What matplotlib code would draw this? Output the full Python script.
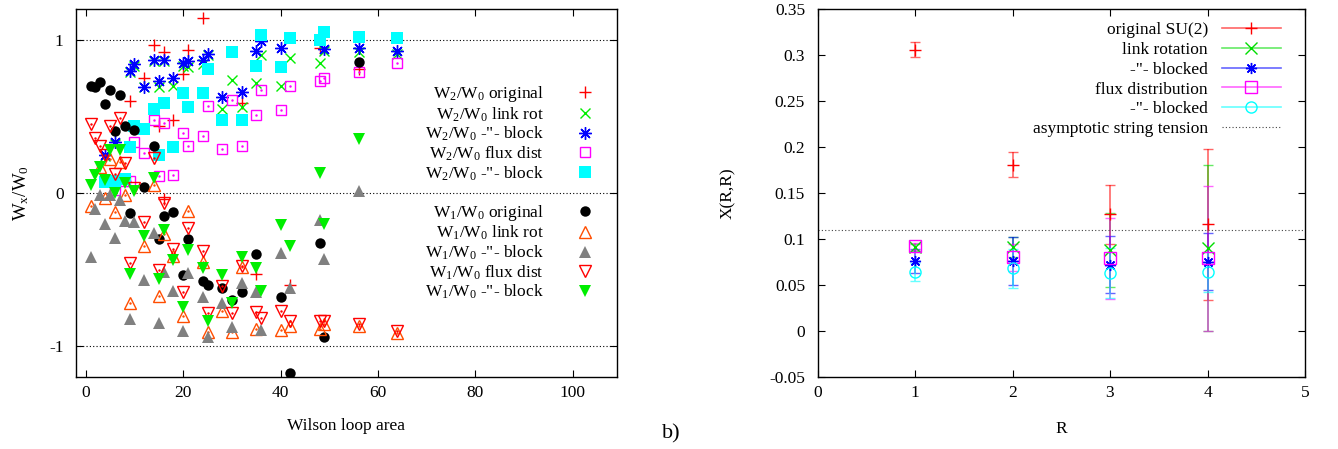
import matplotlib
matplotlib.use('Agg')
import matplotlib.pyplot as plt
from matplotlib.lines import Line2D
from matplotlib.ticker import FuncFormatter

plt.rcParams['font.family'] = ['Liberation Serif', 'DejaVu Serif']
plt.rcParams['mathtext.default'] = 'regular'
plt.rcParams['axes.unicode_minus'] = False
plt.rcParams['font.size'] = 12.5

# ---- left panel: Wilson loop ratios vs loop area ----
w2_orig_x = [9, 12, 14, 15, 16, 16, 18, 20, 21, 24, 32, 35, 42, 48, 56]
w2_orig_y = [0.60, 0.75, 0.97, 0.435, 0.92, -0.04, 0.48, 0.78, 0.935, 1.14, 0.59, -0.53, -0.60, 0.95, 0.81]

w2_link_x = [4, 6, 9, 10, 12, 14, 15, 16, 18, 20, 21, 24, 25, 28, 30, 32, 35, 36, 40, 42, 48, 49, 56, 64]
w2_link_y = [0.24, 0.32, 0.79, 0.83, 0.69, 0.86, 0.69, 0.86, 0.70, 0.83, 0.82, 0.84, 0.90, 0.55, 0.74, 0.56,
             0.72, 0.90, 0.70, 0.88, 0.85, 0.93, 0.92, 0.91]

w2_blk_x = [4, 6, 9, 10, 12, 14, 15, 16, 18, 20, 21, 24, 25, 28, 32, 35, 36, 40, 49, 56, 64]
w2_blk_y = [0.25, 0.33, 0.80, 0.84, 0.69, 0.87, 0.73, 0.87, 0.75, 0.85, 0.86, 0.87, 0.91, 0.63, 0.66, 0.93,
            0.99, 0.95, 0.94, 0.95, 0.93]

w2_flux_x = [6, 8, 9, 10, 12, 14, 15, 16, 18, 20, 21, 24, 25, 28, 30, 32, 35, 36, 40, 42, 48, 49, 56, 64]
w2_flux_y = [0.02, 0.08, 0.08, 0.33, 0.26, 0.48, 0.11, 0.46, 0.12, 0.39, 0.31, 0.37, 0.57, 0.29, 0.61, 0.31,
             0.51, 0.67, 0.54, 0.70, 0.73, 0.75, 0.79, 0.85]

w2_fblk_x = [4, 6, 8, 9, 10, 12, 14, 15, 16, 18, 20, 21, 24, 25, 28, 30, 32, 35, 36, 40, 42, 48, 49, 56, 64]
w2_fblk_y = [0.07, 0.08, 0.09, 0.30, 0.44, 0.42, 0.55, 0.25, 0.59, 0.30, 0.65, 0.56, 0.65, 0.81, 0.48, 0.92,
             0.48, 0.83, 1.03, 0.82, 1.01, 1.00, 1.05, 1.02, 1.01]

w1_orig_x = [1, 2, 3, 4, 5, 6, 7, 8, 9, 10, 12, 14, 15, 16, 18, 20, 21, 24, 25, 28, 30, 32, 35, 40, 42, 48, 49, 56]
w1_orig_y = [0.70, 0.695, 0.728, 0.58, 0.674, 0.406, 0.641, 0.435, -0.13, 0.413, 0.039, 0.309, -0.30, -0.148,
             -0.126, -0.533, -0.30, -0.577, -0.598, -0.62, -0.696, -0.646, -0.398, -0.681, -1.174, -0.326,
             -0.942, 0.854]

w1_link_x = [1, 3, 4, 5, 6, 7, 8, 9, 12, 14, 15, 16, 18, 20, 21, 24, 25, 28, 30, 32, 35, 40, 42, 48, 49, 56, 64]
w1_link_y = [-0.083, 0.17, -0.03, 0.22, -0.126, 0.20, -0.01, -0.718, -0.344, 0.054, -0.674, -0.268, -0.409,
             -0.805, -0.115, -0.453, -0.909, -0.768, -0.909, -0.485, -0.887, -0.892, -0.87, -0.89, -0.855,
             -0.87, -0.913]

w1_blk_x = [1, 2, 3, 4, 5, 6, 7, 8, 9, 10, 12, 14, 15, 16, 18, 20, 21, 24, 25, 28, 30, 32, 35, 36, 40, 42, 48,
            49, 56]
w1_blk_y = [-0.42, -0.104, -0.011, -0.202, -0.01, -0.294, -0.044, -0.185, -0.826, -0.189, -0.566, -0.261,
            -0.848, -0.515, -0.637, -0.903, -0.522, -0.681, -0.942, -0.718, -0.877, -0.587, -0.648, -0.892,
            -0.391, -0.62, -0.174, -0.429, 0.015]

w1_flux_x = [1, 2, 3, 4, 5, 6, 7, 8, 9, 10, 12, 14, 15, 16, 18, 20, 21, 24, 25, 28, 30, 32, 35, 36, 40, 42, 48,
             49, 56, 64]
w1_flux_y = [0.452, 0.359, 0.309, 0.25, 0.435, 0.126, 0.489, 0.196, -0.457, 0.033, -0.189, 0.228, -0.50,
             -0.065, -0.363, -0.646, -0.228, -0.381, -0.783, -0.609, -0.783, -0.479, -0.779, -0.816, -0.768,
             -0.833, -0.837, -0.837, -0.859, -0.903]

w1_fblk_x = [1, 2, 3, 4, 5, 6, 7, 8, 9, 10, 12, 14, 15, 16, 18, 20, 21, 24, 25, 28, 30, 32, 35, 36, 40, 42, 48,
             49, 56]
w1_fblk_y = [0.054, 0.12, 0.17, 0.087, 0.283, 0.0, 0.283, 0.065, -0.528, 0.011, -0.283, 0.10, -0.559, -0.239,
             -0.435, -0.746, -0.37, -0.489, -0.837, -0.537, -0.718, -0.42, -0.489, -0.642, -0.211, -0.348,
             0.13, -0.202, 0.352]

# ---- right panel: Creutz ratios X(R,R) ----
R = [1, 2, 3, 4]
x_orig = [0.306, 0.181, 0.127, 0.116]
e_orig = [0.008, 0.014, 0.032, 0.082]
x_link = [0.091, 0.091, 0.088, 0.090]
e_link = [0.004, 0.011, 0.040, 0.090]
x_blk = [0.076, 0.076, 0.072, 0.075]
e_blk = [0.013, 0.026, 0.031, 0.031]
x_flux = [0.092, 0.080, 0.079, 0.079]
e_flux = [0.004, 0.015, 0.044, 0.079]
x_fblk = [0.064, 0.068, 0.063, 0.064]
e_fblk = [0.010, 0.021, 0.027, 0.022]
sigma_asym = 0.11

W, H = 1338, 449
fig = plt.figure(figsize=(W / 100, H / 100), dpi=100)
ax1 = fig.add_axes([76 / W, 1 - 376.7 / H, (616.7 - 76) / W, (376.7 - 9.3) / H])
ax2 = fig.add_axes([817.5 / W, 1 - 376.7 / H, (1305 - 817.5) / W, (376.7 - 9.3) / H])

ASTER = (8, 2, 0)
orange = '#ff4d00'
green = '#00ee00'

series = [
    (w2_orig_x, w2_orig_y, dict(marker='+', color='red', ms=9, mew=1), r'W$_2$/W$_0$ original'),
    (w2_link_x, w2_link_y, dict(marker='x', color=green, ms=7.5, mew=1), r'W$_2$/W$_0$ link rot'),
    (w2_blk_x, w2_blk_y, dict(marker=ASTER, color='blue', ms=9, mew=1), r'W$_2$/W$_0$ -"- block'),
    (w2_flux_x, w2_flux_y, dict(marker='s', color='magenta', mfc='none', ms=7, mew=1), r'W$_2$/W$_0$ flux dist'),
    (w2_fblk_x, w2_fblk_y, dict(marker='s', color='cyan', ms=8, mew=0), r'W$_2$/W$_0$ -"- block'),
    (w1_orig_x, w1_orig_y, dict(marker='o', color='black', ms=7.5, mew=0), r'W$_1$/W$_0$ original'),
    (w1_link_x, w1_link_y, dict(marker='^', color=orange, mfc='none', ms=8, mew=1), r'W$_1$/W$_0$ link rot'),
    (w1_blk_x, w1_blk_y, dict(marker='^', color='gray', ms=8, mew=0), r'W$_1$/W$_0$ -"- block'),
    (w1_flux_x, w1_flux_y, dict(marker='v', color='red', mfc='none', ms=8, mew=1), r'W$_1$/W$_0$ flux dist'),
    (w1_fblk_x, w1_fblk_y, dict(marker='v', color=green, ms=8, mew=0), r'W$_1$/W$_0$ -"- block'),
]

handles, labels = [], []
for i, (xs, ys, st, lab) in enumerate(series):
    h, = ax1.plot(xs, ys, ls='none', **st)
    if st.get('mfc') == 'none':
        ax1.plot(xs, ys, ls='none', marker='.', ms=1.5, color=st['color'])
    handles.append(h)
    labels.append(lab)
    if i == 4:
        # blank spacer row between the two groups
        handles.append(Line2D([], [], ls='none'))
        labels.append(r'W$_2$/W$_0$')

ax1.set_xlim(-2, 109)
ax1.set_ylim(-1.2, 1.2)
ax1.set_xticks([0, 20, 40, 60, 80, 100])
ax1.set_yticks([-1, 0, 1])
ax1.grid(axis='y', ls=(0, (1, 2)), color='black', lw=0.8)
ax1.set_xlabel('Wilson loop area')
ax1.set_ylabel(r'W$_x$/W$_0$', fontsize=13.5)
ax1.xaxis.set_label_coords(0.5, -0.112)
ax1.yaxis.set_label_coords(-0.083, 0.5)
leg1 = ax1.legend(handles, labels, loc='upper right', bbox_to_anchor=(0.987, 0.816), frameon=False,
                  markerfirst=False, handlelength=2.0, handletextpad=1.4, labelspacing=0.075,
                  borderaxespad=0, fontsize=12.5)
leg1.get_texts()[5].set_alpha(0)

# right panel
rstyles = [
    (x_orig, e_orig, 'red', '+', 'original SU(2)', 'none'),
    (x_link, e_link, '#00dd00', 'x', 'link rotation', 'none'),
    (x_blk, e_blk, 'blue', ASTER, '-"- blocked', 'none'),
    (x_flux, e_flux, 'magenta', 's', 'flux distribution', 'none'),
    (x_fblk, e_fblk, 'cyan', 'o', '-"- blocked', 'none'),
]
rh, rl = [], []
for ys, es, c, m, lab, mfc in rstyles:
    ecol = matplotlib.colors.to_rgba(c, 0.6)
    ax2.errorbar(R, ys, yerr=es, ls='none', marker=m, color=c, mfc=mfc, ms=8, mew=1,
                 ecolor=ecol, elinewidth=1.2, capsize=3.5, capthick=1.2)
    rh.append(Line2D([], [], color=ecol, lw=1.2, marker=m, mfc=mfc, mec=c, ms=8, mew=1))
    rl.append(lab)
hl = ax2.axhline(sigma_asym, ls=(0, (1, 2)), color='#444444', lw=0.8)
rh.append(hl)
rl.append('asymptotic string tension')

ax2.set_xlim(0, 5)
ax2.set_ylim(-0.05, 0.35)
ax2.set_xticks([0, 1, 2, 3, 4, 5])
ax2.set_yticks([-0.05, 0, 0.05, 0.1, 0.15, 0.2, 0.25, 0.3, 0.35])
ax2.yaxis.set_major_formatter(FuncFormatter(lambda v, p: '%g' % round(v, 3)))
ax2.set_xlabel('R')
ax2.set_ylabel('X(R,R)')
ax2.xaxis.set_label_coords(0.5, -0.12)
ax2.yaxis.set_label_coords(-0.167, 0.5)
ax2.legend(rh, rl, loc='upper right', bbox_to_anchor=(0.965, 0.985), frameon=False,
           markerfirst=False, handlelength=3.4, handletextpad=0.8, labelspacing=0.215,
           borderaxespad=0, fontsize=12.5)

for ax in (ax1, ax2):
    ax.tick_params(direction='in', top=True, right=True, length=5, width=0.8, labelsize=12.5)
    ax.tick_params(axis='y', pad=9)
    ax.tick_params(axis='x', pad=6)
    for s in ax.spines.values():
        s.set_linewidth(1.0)

fig.text(671 / W, 1 - 434 / H, 'b)', ha='center', va='center', fontsize=16)

fig.savefig('out.png', dpi=100)
